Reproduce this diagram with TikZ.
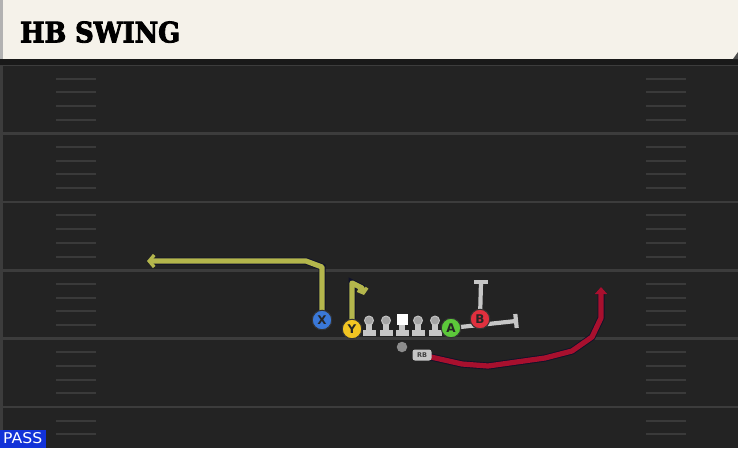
\documentclass[tikz,border=0pt]{standalone}
\usepackage{fontspec}
\setmainfont{DejaVu Sans}
\newfontfamily\titlefont{DejaVu Serif Condensed Bold}[FakeBold=3]
\usetikzlibrary{arrows.meta,calc}
\definecolor{fieldbg}{HTML}{232323}
\definecolor{yardln}{HTML}{3C3C3C}
\definecolor{hashln}{HTML}{3A3A3A}
\definecolor{cream}{HTML}{F5F2EA}
\definecolor{routeY}{HTML}{B4B64C}
\definecolor{routeR}{HTML}{A8102E}
\definecolor{outl}{HTML}{10122A}
\definecolor{blockg}{HTML}{C6C6C6}
\definecolor{headg}{HTML}{A4A4A4}
\definecolor{pX}{HTML}{3A78D8}
\definecolor{pY}{HTML}{F2C522}
\definecolor{pA}{HTML}{5CC83A}
\definecolor{pB}{HTML}{E0303E}
\definecolor{passblue}{HTML}{1232D8}
\tikzset{
  player/.style={circle, draw=black!80, line width=1pt, minimum size=19.5pt, inner sep=0pt,
    font=\bfseries\fontsize{12}{12}\selectfont, text=black!85},
  yroute/.style={draw=routeY, line width=5.2pt, line join=round,
    preaction={draw=outl, line width=7pt}},
  rroute/.style={draw=routeR, line width=5.2pt, line join=round,
    preaction={draw=outl, line width=7pt}},
  blockln/.style={draw=blockg, line width=4.2pt},
  yardstyle/.style={draw=yardln, line width=2.6pt},
  hashstyle/.style={draw=hashln, line width=2pt},
}
\begin{document}
\begin{tikzpicture}[x=1pt,y=-1pt]
\useasboundingbox (0,0) rectangle (738,448);
% field
\fill[fieldbg] (0,0) rectangle (738,448);
\fill[yardln] (0,59) rectangle (3,448);
% yard lines
\foreach \y in {65,133.4,201.8,270.2,338.6,407} {
  \draw[yardstyle] (0,\y) -- (738,\y);
}
% hash marks
\foreach \y in {65,133.4,201.8,270.2,338.6,407} {
  \foreach \k in {1,2,3,4} {
    \pgfmathsetmacro{\yy}{\y+13.68*\k}
    \ifdim\yy pt<448pt
      \draw[hashstyle] (56,\yy) -- (96,\yy);
      \draw[hashstyle] (646,\yy) -- (686,\yy);
    \fi
  }
}
% header
\fill[black!90] (0,59) rectangle (738,65);
\fill[cream] (0,0) rectangle (738,59);
\fill[black!30] (0,0) rectangle (3,59);
\fill[black!70] (733,59) -- (738,52) -- (738,59) -- cycle;
\node[anchor=south west, inner sep=0pt] (title) at (20,43)
  {\resizebox{160pt}{21pt}{\titlefont HB SWING}};
% PASS label
\node[fill=passblue, anchor=south west, inner sep=0pt, minimum width=46pt, minimum height=18pt] (pass) at (0,448) {};
\node[anchor=south west, inner sep=0pt, text=white] (passtxt) at (3,444)
  {\resizebox{39pt}{11pt}{PASS}};

% route coordinates
\coordinate (xa) at (322,267);
\coordinate (xb) at (306,261);
\coordinate (xc) at (147,261);
\coordinate (ya) at (352,283);
\coordinate (yb) at (362,288);
\coordinate (yc) at (364,295);
\coordinate (ba) at (481,282);
\coordinate (ab) at (516,321);
\coordinate (r1) at (462,364);
\coordinate (r2) at (488,366);
\coordinate (r3) at (545,358);
\coordinate (r4) at (572,351);
\coordinate (r5) at (592,337);
\coordinate (r6) at (601,318);
\coordinate (r7) at (601,287);

% player anchor coordinates
\coordinate (Xpos) at (322,320);
\coordinate (Ypos) at (352,329);
\coordinate (Apos) at (451,328);
\coordinate (Bpos) at (480,319);
\coordinate (RBpos) at (422,355);

% routes
\draw[yroute, -{Straight Barb[length=5pt,width=12pt,line width=3.4pt]}] (Xpos) -- (xa) -- (xb) -- (xc);
\draw[yroute, -{Straight Barb[length=4pt,width=10pt,line width=3.4pt]}] (Ypos) -- (ya) -- (yb) -- (yc);
\draw[rroute, -{Triangle[length=7pt,width=12pt]}] (RBpos) -- (r1) -- (r2) -- (r3) -- (r4) -- (r5) -- (r6) -- (r7);
% blocks
\draw[blockln] (Bpos) -- (ba);
\draw[blockln] ($(ba)+(-7,0)$) -- ($(ba)+(7,0)$);
\draw[blockln] (Apos) -- (ab);
\draw[blockln] ($(ab)+(-0.7,-7)$) -- ($(ab)+(0.7,7)$);

% linemen
\foreach \n/\x in {l1/369,l2/386,l4/418,l5/435} {
  \fill[blockg] (\x-3,322) rectangle (\x+3,331);
  \fill[blockg] (\x-6.5,330) rectangle (\x+6.5,335.5);
  \node[circle, fill=headg, draw=blockg, line width=0.9pt, inner sep=0pt, minimum size=9pt] (\n) at (\x,320.5) {};
}
\fill[blockg] (399,322) rectangle (405,331);
\fill[blockg] (395.5,330) rectangle (408.5,335.5);
\node[fill=white, inner sep=0pt, minimum size=11pt] (center) at (402,319) {};

% QB
\node[circle, fill=black!45, inner sep=0pt, minimum size=10.5pt] (qb) at (402,347) {};
% RB
\node[fill=blockg, rounded corners=2.5pt, inner sep=0pt, minimum width=19pt, minimum height=11pt,
  text=black!75, font=\bfseries\fontsize{6.5}{6.5}\selectfont] (rb) at (RBpos) {RB};

% players
\node[player, fill=pX] (X) at (Xpos) {X};
\node[player, fill=pY] (Y) at (Ypos) {Y};
\node[player, fill=pA] (A) at (Apos) {A};
\node[player, fill=pB] (B) at (Bpos) {B};
\end{tikzpicture}
\end{document}
